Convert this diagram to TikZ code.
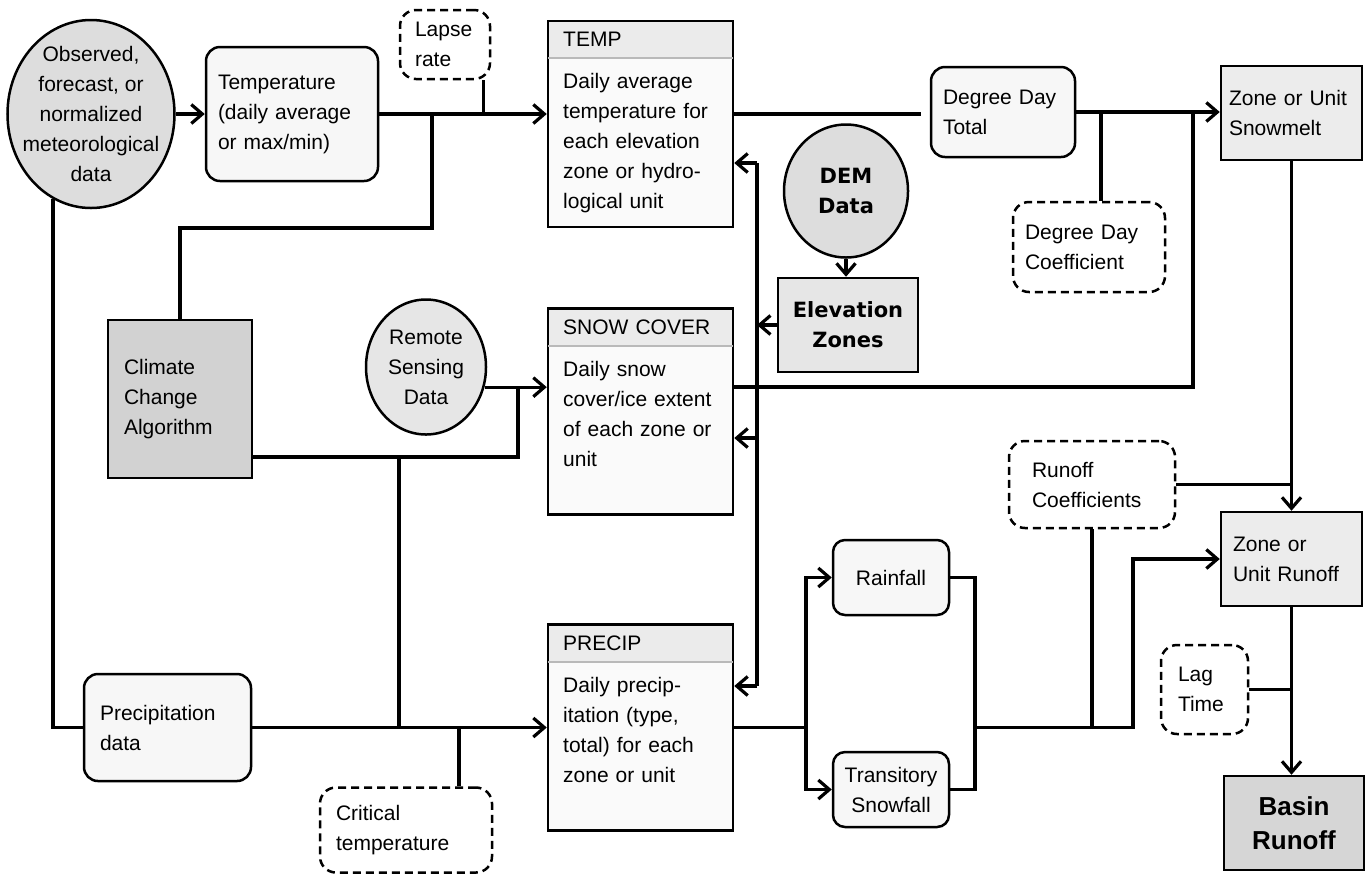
\documentclass[tikz,border=0pt]{standalone}
\usepackage{fontspec}
\setmainfont{Liberation Sans}
\newfontfamily\demfont{DejaVu Sans}
\usetikzlibrary{arrows.meta,shapes.geometric}

\newcommand{\mainsz}{\fontsize{10.5}{15}\selectfont}

\definecolor{circfill}{HTML}{DDDDDD}
\definecolor{softfill}{HTML}{F7F7F7}
\definecolor{unitfill}{HTML}{ECECEC}
\definecolor{procfill}{HTML}{FAFAFA}
\definecolor{headfill}{HTML}{EBEBEB}
\definecolor{elevfill}{HTML}{E6E6E6}
\definecolor{ccafill}{HTML}{D2D2D2}
\definecolor{basinfill}{HTML}{D6D6D6}

\tikzset{
  every node/.append style={font=\mainsz, line width=1.25pt},
  datacirc/.style={ellipse, draw, fill=circfill, inner sep=0pt, align=center},
  roundbox/.style={draw, rounded corners=7pt, fill=softfill, align=left, inner xsep=6pt},
  parambox/.style={draw, dash pattern=on 4pt off 2.5pt, rounded corners=8pt, fill=white, align=left},
  unitbox/.style={draw, fill=unitfill, align=left},
  procbox/.style={draw, fill=procfill, minimum width=92.5pt, minimum height=103pt},
  prochead/.style={anchor=north, fill=headfill, minimum height=17.4pt, text width=77.3pt,
    inner xsep=7pt, inner ysep=0pt, align=left},
  procbody/.style={anchor=north west, text width=77.3pt, inner xsep=7pt, inner ysep=7pt, align=left},
  headline/.style={gray!55, line width=0.8pt},
  elevbox/.style={draw, fill=elevfill, minimum width=70pt, minimum height=47pt, align=center,
    font=\demfont\bfseries\mainsz},
  ccabox/.style={draw, fill=ccafill, minimum width=72pt, minimum height=79pt, text width=56pt,
    inner xsep=8pt, align=left},
  smallbox/.style={draw, rounded corners=6pt, fill=softfill, minimum width=58pt, minimum height=37.5pt,
    align=center},
  basinbox/.style={draw, fill=basinfill, minimum width=70pt, minimum height=47pt, align=center,
    font=\bfseries\fontsize{13}{17}\selectfont},
  thickline/.style={line width=2.2pt}
}

\begin{document}
\begin{tikzpicture}[x=0.5pt, y=-0.5pt, line width=1.6pt, >={Straight Barb[length=5.5pt,width=9.5pt]}]
\useasboundingbox (0,0) rectangle (1368,874);

% inputs
\node[datacirc, minimum width=83.5pt, minimum height=94pt] (obs) at (91,114) {};
\node[align=center] (obstext) at (obs) {Observed,\\forecast, or\\normalized\\meteorological\\data};
\node[roundbox, minimum width=86pt, minimum height=67pt, text width=74pt] (tempr) at (292,114) {Temperature\\(daily average\\or max/min)};
\node[parambox, minimum width=45pt, minimum height=34.5pt, text width=30pt, inner xsep=7.5pt] (lapse) at (445,44.5) {Lapse\\rate};
\node[ccabox] (cca) at (180,399) {Climate\\Change\\Algorithm};
\node[datacirc, fill=elevfill, minimum width=60pt, minimum height=67.5pt] (rsd) at (426,367) {Remote\\Sensing\\Data};
\node[roundbox, minimum width=83.5pt, minimum height=53.5pt, text width=67.5pt, inner xsep=8pt] (pdata) at (167.5,727.5) {Precipitation\\data};
\node[parambox, minimum width=86pt, minimum height=42.5pt, text width=70pt, inner xsep=8pt] (crit) at (406,830) {Critical\\temperature};

% the three zone boxes
\node[procbox] (temp) at (640.5,124) {};
\node[prochead] (temphead) at ([yshift=-0.6pt]temp.north) {TEMP};
\draw[headline] (temphead.south west) -- (temphead.south east);
\node[procbody] (tempbody) at (temphead.south west) {Daily average\\temperature for\\each elevation\\zone or hydro-\\logical unit};

\node[procbox] (snow) at (640.5,411.5) {};
\node[prochead] (snowhead) at ([yshift=-0.6pt]snow.north) {SNOW COVER};
\draw[headline] (snowhead.south west) -- (snowhead.south east);
\node[procbody] (snowbody) at (snowhead.south west) {Daily snow\\cover/ice extent\\of each zone or\\unit};

\node[procbox] (precip) at (640.5,727.5) {};
\node[prochead] (preciphead) at ([yshift=-0.6pt]precip.north) {PRECIP};
\draw[headline] (preciphead.south west) -- (preciphead.south east);
\node[procbody] (precipbody) at (preciphead.south west) {Daily precip-\\itation (type,\\total) for each\\zone or unit};

% elevation data
\node[datacirc, minimum width=62pt, minimum height=66.5pt, font=\demfont\bfseries\mainsz] (dem) at (846,191) {DEM\\Data};
\node[elevbox] (elev) at (848,325) {Elevation\\Zones};

% melt and runoff
\node[roundbox, minimum width=72pt, minimum height=45pt, text width=60pt] (ddt) at (1003,112) {Degree Day\\Total};
\node[parambox, minimum width=76pt, minimum height=45pt, text width=64pt, inner xsep=6pt] (ddc) at (1089,247) {Degree Day\\Coefficient};
\node[unitbox, minimum width=70.5pt, minimum height=47pt, text width=62.5pt, inner xsep=4pt] (melt) at (1291.5,113) {Zone or Unit\\Snowmelt};
\node[smallbox] (rain) at (891,577.5) {Rainfall};
\node[smallbox] (snowfall) at (891,789.5) {Transitory\\Snowfall};
\node[parambox, minimum width=83pt, minimum height=43.5pt, text width=60pt, inner xsep=11.5pt] (roc) at (1092,484.5) {Runoff\\Coefficients};
\node[unitbox, minimum width=70.5pt, minimum height=47pt, text width=58.5pt, inner xsep=6pt] (runoff) at (1291.5,559) {Zone or\\Unit Runoff};
\node[parambox, minimum width=43.5pt, minimum height=44.5pt, text width=26.5pt, inner xsep=8.5pt] (lag) at (1204.5,689.5) {Lag\\Time};
\node[basinbox] (basin) at (1294,823) {Basin\\Runoff};

% bends and joints
\coordinate (tjoin) at (432,114);
\coordinate (cbend) at (432,228);
\coordinate (lapsefoot) at ([xshift=-4pt]lapse.south east);
\coordinate (mjoin) at (1193,113);
\coordinate (etop) at (757,163);
\coordinate (ebot) at (757,686);
\coordinate (snowin) at (757,438);
\coordinate (sjoin) at (518,387);
\coordinate (cjoin) at (399,457);
\coordinate (ccaout) at ([yshift=-29pt]cca.east);
\coordinate (snowout) at ([yshift=12.25pt]snow.east);
\coordinate (ddcfoot) at ([xshift=6pt]ddc.north);
\coordinate (critfoot) at ([xshift=26.5pt]crit.north);
\coordinate (psplit) at (806,727.5);
\coordinate (pmerge) at (975,727.5);
\coordinate (rjoin) at (1133,727.5);

% temperature
\draw[->] (obs) -- (tempr);
\draw[->] (tempr) -- (tempr -| temp.west);
\draw (lapsefoot) -- (lapsefoot |- tempr.east);
\draw (cca.north) |- (cbend) -- (tjoin);
\draw[thickline, shorten >=4.5pt] (tempr.east -| temp.east) -- (tempr.east -| ddt.west);
\draw[->] (ddt) -- (ddt -| melt.west);
\draw (ddcfoot) -- (ddcfoot |- ddt.east);

% elevation
\draw[->] (dem) -- (dem |- elev.north);
\draw (etop) -- (ebot);
\draw[->] (elev) -- (elev -| etop);
\draw[->] (etop) -- (etop -| temp.east);
\draw[->] (snowin) -- (snowin -| snow.east);
\draw[->] (ebot) -- (ebot -| precip.east);

% snow cover
\draw[->] (rsd.-19) -- (rsd.-19 -| snow.west);
\draw (ccaout) -| (sjoin);
\draw (snowout) -| (mjoin);

% precipitation
\draw (obs.-114) |- (pdata.west);
\draw (cjoin) -- (cjoin |- pdata.east);
\draw[->] (pdata) -- (pdata -| precip.west);
\draw (critfoot) -- (critfoot |- pdata.east);
\draw (precip) -- (psplit);
\draw[->] (psplit) |- (rain);
\draw[->] (psplit) |- (snowfall);
\draw (rain) -| (pmerge) |- (snowfall);
\draw[->] (pmerge) -- (rjoin) |- (runoff);
\draw (roc) -- (roc |- pmerge);

% runoff
\draw[->] (melt) -- (melt |- runoff.north);
\draw (roc) -- (roc -| melt);
\draw[->] (runoff) -- (runoff |- basin.north);
\draw (lag) -- (lag -| runoff);
\end{tikzpicture}
\end{document}
